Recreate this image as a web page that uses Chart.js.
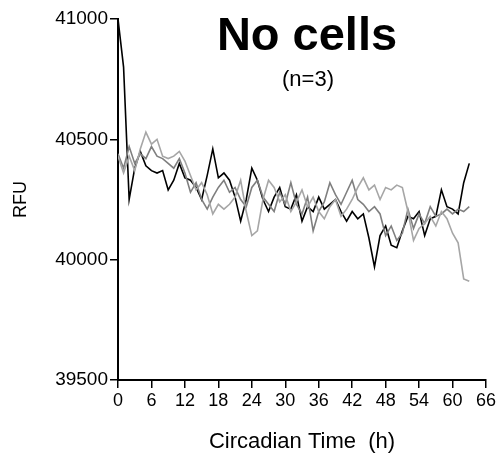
<!DOCTYPE html>
<html>
<head>
<meta charset="utf-8">
<script src="https://cdn.jsdelivr.net/npm/chart.js@4/dist/chart.umd.min.js"></script>
<style>
	html, body { margin: 0; padding: 0; background: #fff; }
	#wrap { width: 503px; height: 462px; }
</style>
</head>
<body>
<div id="wrap"><canvas id="chart" width="503" height="462"></canvas></div>
<script>
// time in hours, one sample per hour
const hours = [
	0, 1, 2, 3, 4, 5, 6, 7, 8, 9, 10, 11, 12, 13, 14, 15, 16, 17, 18, 19,
	20, 21, 22, 23, 24, 25, 26, 27, 28, 29, 30, 31, 32, 33, 34, 35, 36, 37, 38, 39,
	40, 41, 42, 43, 44, 45, 46, 47, 48, 49, 50, 51, 52, 53, 54, 55, 56, 57, 58, 59,
	60, 61, 62, 63,
];

const rfuBlack = [
	41000, 40800, 40250, 40380, 40450, 40390, 40370, 40360, 40370, 40290,
	40330, 40400, 40340, 40330, 40300, 40250, 40350, 40460, 40340, 40360,
	40330, 40260, 40160, 40250, 40380, 40330, 40250, 40200, 40260, 40300,
	40220, 40210, 40270, 40160, 40220, 40200, 40260, 40210, 40230, 40250,
	40200, 40160, 40200, 40170, 40190, 40090, 39970, 40100, 40140, 40060,
	40050, 40120, 40180, 40170, 40200, 40100, 40170, 40180, 40290, 40220,
	40210, 40190, 40320, 40400,
];

const rfuDarkGray = [
	40440, 40380, 40470, 40400, 40440, 40420, 40470, 40430, 40420, 40400,
	40380, 40420, 40360, 40280, 40320, 40250, 40210, 40260, 40300, 40330,
	40280, 40300, 40250, 40220, 40300, 40330, 40260, 40230, 40200, 40280,
	40230, 40320, 40230, 40190, 40260, 40120, 40200, 40240, 40320, 40270,
	40230, 40280, 40330, 40250, 40230, 40200, 40220, 40190, 40100, 40140,
	40080, 40110, 40210, 40130, 40190, 40150, 40220, 40180, 40190, 40210,
	40190, 40210, 40200, 40220,
];

const rfuLightGray = [
	40430, 40360, 40430, 40370, 40460, 40530, 40480, 40500, 40430, 40420,
	40430, 40450, 40410, 40350, 40290, 40320, 40270, 40190, 40230, 40210,
	40230, 40260, 40330, 40200, 40100, 40120, 40250, 40330, 40300, 40240,
	40270, 40200, 40240, 40290, 40220, 40260, 40200, 40170, 40220, 40250,
	40180, 40210, 40250, 40300, 40340, 40290, 40310, 40250, 40300, 40290,
	40310, 40300, 40200, 40080, 40130, 40150, 40180, 40140, 40200, 40170,
	40110, 40070, 39920, 39910,
];

const xTicks = [0, 6, 12, 18, 24, 30, 36, 42, 48, 54, 60, 66];
const yTicks = [39500, 40000, 40500, 41000];

const FONT = 'Arial, "Liberation Sans", sans-serif';

function toPoints(values) {
	return values.map((v, i) => ({ x: hours[i], y: v }));
}

// title sits inside the plot area, so it is drawn by hand
const titlePlugin = {
	id: 'insideTitle',
	afterDraw(chart) {
		const ctx = chart.ctx;
		ctx.save();
		ctx.fillStyle = '#000';
		ctx.textAlign = 'center';
		ctx.textBaseline = 'alphabetic';
		ctx.font = 'bold 47px ' + FONT;
		ctx.fillText('No cells', 307, 50);
		ctx.font = '22px ' + FONT;
		ctx.fillText('(n=3)', 308, 86);
		ctx.restore();
	},
};

const lineStyle = {
	pointRadius: 0,
	borderWidth: 1.6,
	tension: 0,
	fill: false,
};

const config = {
	type: 'line',
	data: {
		datasets: [
			{ ...lineStyle, data: toPoints(rfuLightGray), borderColor: '#a6a6a6' },
			{ ...lineStyle, data: toPoints(rfuDarkGray), borderColor: '#7f7f7f' },
			{ ...lineStyle, data: toPoints(rfuBlack), borderColor: '#000000' },
		],
	},
	options: {
		responsive: false,
		animation: false,
		layout: {
			padding: { top: 19, right: 17, left: 10, bottom: 5 },
		},
		plugins: {
			legend: { display: false },
			tooltip: { enabled: false },
		},
		scales: {
			x: {
				type: 'linear',
				min: 0,
				max: 66,
				afterBuildTicks: (scale) => {
					scale.ticks = xTicks.map((v) => ({ value: v }));
				},
				afterFit: (scale) => {
					scale.height = 77;
				},
				grid: {
					drawOnChartArea: false,
					drawTicks: true,
					tickLength: 8,
					color: '#000',
					lineWidth: 1.5,
				},
				border: { display: true, color: '#000', width: 2 },
				ticks: {
					color: '#000',
					font: { family: FONT, size: 18 },
					padding: 2,
					maxRotation: 0,
					autoSkip: false,
				},
				title: {
					display: true,
					text: 'Circadian Time  (h)',
					color: '#000',
					font: { family: FONT, size: 22 },
					padding: { top: 4, bottom: 2 },
				},
			},
			y: {
				type: 'linear',
				min: 39500,
				max: 41000,
				afterBuildTicks: (scale) => {
					scale.ticks = yTicks.map((v) => ({ value: v }));
				},
				afterFit: (scale) => {
					scale.width = 108;
				},
				grid: {
					drawOnChartArea: false,
					drawTicks: true,
					tickLength: 8,
					color: '#000',
					lineWidth: 1.5,
				},
				border: { display: true, color: '#000', width: 2 },
				ticks: {
					color: '#000',
					font: { family: FONT, size: 19 },
					padding: 2,
					autoSkip: false,
					callback: (v) => String(v),
				},
				title: {
					display: true,
					text: 'RFU',
					color: '#000',
					font: { family: FONT, size: 18 },
					padding: { top: 0, bottom: 0 },
				},
			},
		},
	},
	plugins: [titlePlugin],
};

new Chart(document.getElementById('chart'), config);
</script>
</body>
</html>
